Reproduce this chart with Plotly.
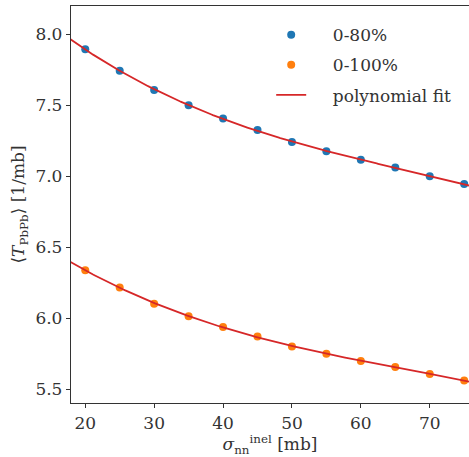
import numpy as np
import plotly.graph_objects as go

sigma = [20, 25, 30, 35, 40, 45, 50, 55, 60, 65, 70, 75]
t_080 = [7.892, 7.742, 7.606, 7.498, 7.406, 7.324, 7.240, 7.176, 7.115, 7.060, 7.000, 6.944]
t_0100 = [6.338, 6.216, 6.103, 6.014, 5.939, 5.871, 5.802, 5.750, 5.700, 5.657, 5.608, 5.562]
x_range = [17.93, 75.7]
y_range = [5.404, 8.197]
x_ticks = [20, 30, 40, 50, 60, 70]
y_ticks = [5.5, 6.0, 6.5, 7.0, 7.5, 8.0]

FONT = "DejaVu Serif"
FS = 17
xf = np.linspace(x_range[0] - 1, x_range[1] + 1, 300)
fit_blue = np.polyval(np.polyfit(sigma, t_080, 3), xf)
fit_orange = np.polyval(np.polyfit(sigma, t_0100, 3), xf)
PAD = "\u00a0" * 4

fig = go.Figure()
fig.add_trace(go.Scatter(x=sigma, y=t_080, mode="markers", name=PAD + "0-80%", legendgroup="a",
                         marker=dict(color="#1f77b4", size=8)))
fig.add_trace(go.Scatter(x=sigma, y=t_0100, mode="markers", name=PAD + "0-100%", legendgroup="b",
                         marker=dict(color="#ff7f0e", size=8)))
fig.add_trace(go.Scatter(x=xf, y=fit_blue, mode="lines", line=dict(color="#d62728", width=1.8),
                         name=PAD + "polynomial fit", legendgroup="c", showlegend=True))
fig.add_trace(go.Scatter(x=xf, y=fit_orange, mode="lines", line=dict(color="#d62728", width=1.8),
                         name="polynomial fit", legendgroup="c", showlegend=False))

axis_common = dict(showgrid=False, zeroline=False, showline=True, linecolor="#333333", linewidth=1.3,
                   ticks="outside", ticklen=4, tickwidth=1.2, tickcolor="#333333",
                   tickfont=dict(family=FONT, size=FS, color="#333333"))
fig.update_layout(
    width=469, height=457,
    margin=dict(l=71, r=0, t=6, b=54),
    plot_bgcolor="white", paper_bgcolor="white",
    font=dict(family=FONT, size=FS, color="#333333"),
    xaxis=dict(range=x_range, tickvals=x_ticks, mirror=True,
               title=dict(text="<i>σ</i><sub>nn</sub><sup>inel</sup> [mb]", standoff=4,
                          font=dict(family=FONT, size=FS)), **axis_common),
    yaxis=dict(range=y_range, tickvals=y_ticks, tickformat=".1f",
               title=dict(text="⟨<i>T</i><sub>PbPb</sub>⟩ [1/mb]", standoff=6,
                          font=dict(family=FONT, size=FS)), **axis_common),
    legend=dict(x=0.503, y=0.972, xanchor="left", yanchor="top", bgcolor="rgba(0,0,0,0)",
                font=dict(family=FONT, size=FS, color="#333333"), tracegroupgap=5,
                traceorder="grouped"),
    showlegend=True,
)
fig.write_html("out.html")
